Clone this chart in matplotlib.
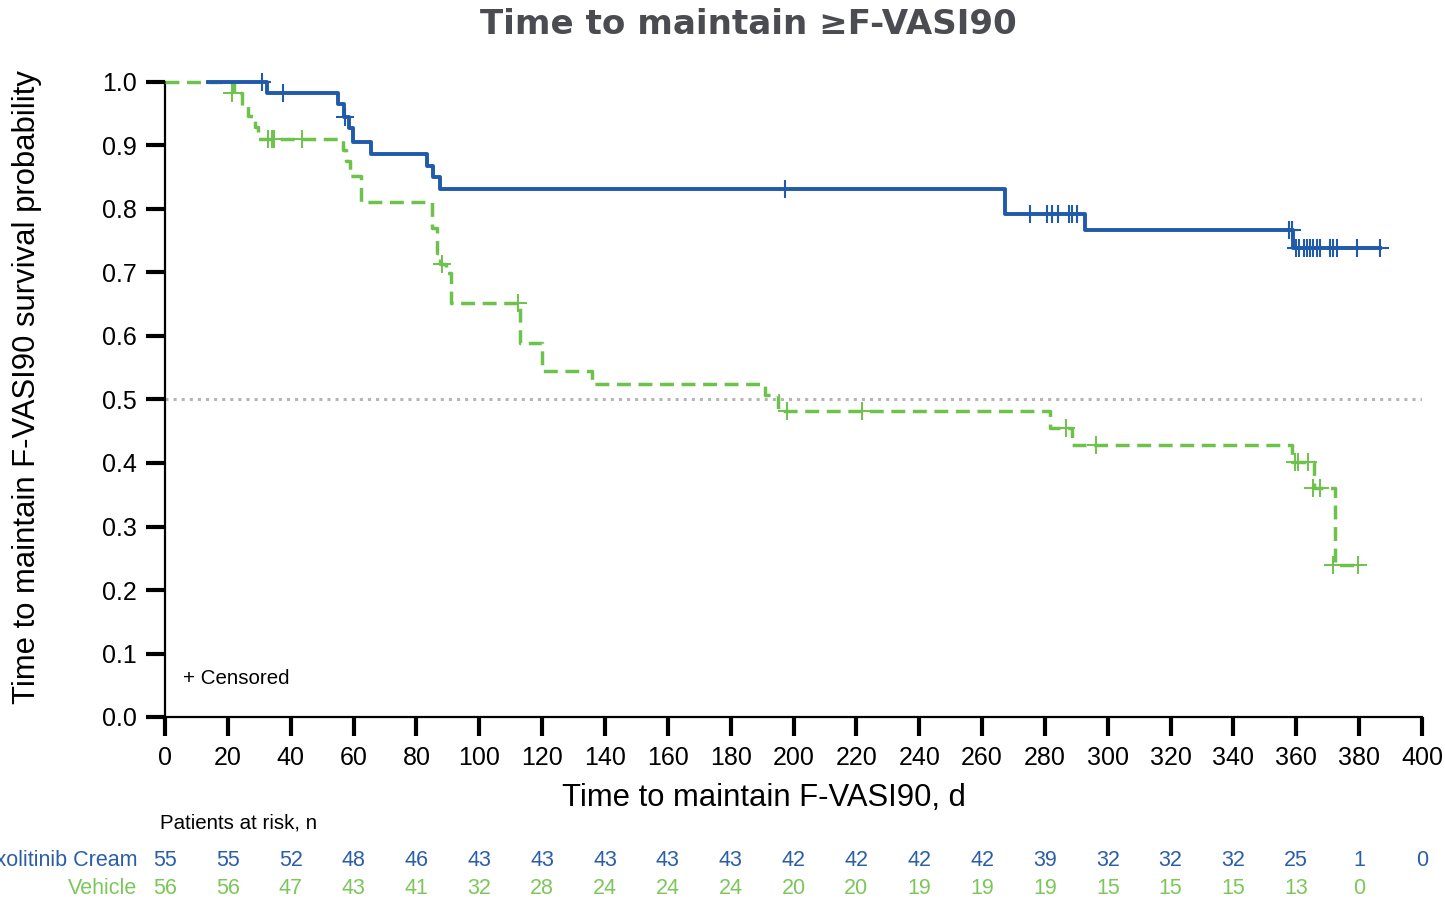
import matplotlib
matplotlib.use("Agg")
import matplotlib.pyplot as plt

plt.rcParams["font.family"] = ["Liberation Sans", "DejaVu Sans"]

BLUE = "#1f5aab"
GREEN = "#6cc24a"
BLUE_TXT = "#2b5ea9"
GREEN_TXT = "#7cc75c"

# Kaplan-Meier steps (time in days, survival after that time)
rux_t = [13.8, 32.5, 55.2, 57.1, 58.7, 59.7, 65.4, 83.3, 85.4, 87.5, 267.3, 292.8, 359.0, 386.6]
rux_s = [1.0, 0.982, 0.966, 0.945, 0.927, 0.906, 0.887, 0.868, 0.851, 0.831, 0.792, 0.767, 0.738, 0.738]
rux_cens_t = [30.9, 37.5, 57.3, 197.3, 275.3, 280.6, 282.2, 284.2, 287.7, 288.5, 290.2,
              357.8, 358.6, 359.9, 361.0, 362.3, 363.3, 364.4, 365.4, 366.5, 367.7,
              370.7, 371.8, 372.9, 379.4, 386.6]
rux_cens_s = [1.0, 0.982, 0.945, 0.831, 0.792, 0.792, 0.792, 0.792, 0.792, 0.792, 0.792,
              0.767, 0.767, 0.738, 0.738, 0.738, 0.738, 0.738, 0.738, 0.738, 0.738,
              0.738, 0.738, 0.738, 0.738, 0.738]

veh_t = [0, 22.0, 24.5, 26.5, 28.5, 29.5, 56.5, 57.5, 59.0, 62.5, 85.0, 86.5, 87.5, 89.5, 91.0,
         113.0, 120.0, 136.0, 191.0, 195.2, 281.6, 288.5, 358.5, 365.6, 372.2, 379.6]
veh_s = [1.0, 0.982, 0.964, 0.946, 0.929, 0.911, 0.893, 0.875, 0.852, 0.811, 0.770, 0.731, 0.713,
         0.699, 0.652, 0.589, 0.545, 0.525, 0.507, 0.482, 0.455, 0.429, 0.401, 0.360, 0.239, 0.239]
veh_cens_t = [21.2, 32.9, 33.9, 34.8, 43.5, 88.0, 112.3, 197.8, 221.8, 286.7, 296.3,
              359.6, 360.7, 363.8, 365.4, 367.7, 371.7, 379.6]
veh_cens_s = [0.982, 0.911, 0.911, 0.911, 0.911, 0.713, 0.652, 0.482, 0.482, 0.455, 0.429,
              0.401, 0.401, 0.401, 0.360, 0.360, 0.239, 0.239]

risk_days = list(range(0, 401, 20))
rux_risk = [55, 55, 52, 48, 46, 43, 43, 43, 43, 43, 42, 42, 42, 42, 39, 32, 32, 32, 25, 1, 0]
veh_risk = [56, 56, 47, 43, 41, 32, 28, 24, 24, 24, 20, 20, 19, 19, 19, 15, 15, 15, 13, 0]

fig = plt.figure(figsize=(14.45, 9), dpi=100)
ax = fig.add_axes([165 / 1445, 1 - 717 / 900, 1257 / 1445, 635 / 900])

ax.axhline(0.5, color="#b5b5b5", lw=2.2, ls=":", zorder=1)

ax.step(veh_t, veh_s, where="post", color=GREEN, lw=2.5, ls=(0, (4.0, 2.2)),
        clip_on=False, zorder=3)
ax.plot(veh_cens_t, veh_cens_s, ls="none", marker="+", ms=13, mew=1.4,
        color=GREEN, clip_on=False, zorder=3)
ax.step(rux_t, rux_s, where="post", color=BLUE, lw=2.8, clip_on=False, zorder=4)
ax.plot(rux_cens_t, rux_cens_s, ls="none", marker="+", ms=13, mew=1.5,
        color=BLUE, clip_on=False, zorder=4)

ax.set_xlim(0, 400)
ax.set_ylim(0, 1.0)
ax.set_xticks(risk_days)
ax.set_yticks([i / 10 for i in range(11)])
ax.set_yticklabels([f"{i / 10:.1f}" for i in range(11)])
for s in ["top", "right"]:
    ax.spines[s].set_visible(False)
for s in ["left", "bottom"]:
    ax.spines[s].set_linewidth(1.6)
ax.tick_params(axis="both", length=14, width=3, labelsize=18, color="black")
ax.tick_params(axis="y", pad=6)
ax.tick_params(axis="x", pad=7)

ax.text(5.7, 0.061, "+ Censored", fontsize=14.8, va="center", ha="left")

fig.text(748 / 1445, 1 - 25 / 900, "Time to maintain \u2265F-VASI90", family="DejaVu Sans",
         fontweight="bold", fontsize=24.6, color="#4b4b52", ha="center", va="center")
fig.text(764 / 1445, 1 - 798 / 900, "Time to maintain F-VASI90, d", fontsize=22.3,
         ha="center", va="center")
fig.text(27 / 1445, 1 - 387 / 900, "Time to maintain F-VASI90 survival probability",
         fontsize=22.3, rotation=90, ha="center", va="center")

fig.text(239 / 1445, 1 - 823 / 900, "Patients at risk, n", fontsize=14.8,
         ha="center", va="center")
fig.text(137 / 1445, 1 - 860 / 900, "Ruxolitinib Cream", fontsize=15.5, color=BLUE_TXT,
         ha="right", va="center")
fig.text(137 / 1445, 1 - 889 / 900, "Vehicle", fontsize=15.5, color=GREEN_TXT,
         ha="right", va="center")
for d, n in zip(risk_days, rux_risk):
    ax.text(d, (717 - 860) / 635, str(n), transform=ax.get_xaxis_transform(),
            fontsize=15.5, color=BLUE_TXT, ha="center", va="center", clip_on=False)
for d, n in zip(risk_days, veh_risk):
    ax.text(d, (717 - 889) / 635, str(n), transform=ax.get_xaxis_transform(),
            fontsize=15.5, color=GREEN_TXT, ha="center", va="center", clip_on=False)

fig.savefig("out.png", dpi=100)
